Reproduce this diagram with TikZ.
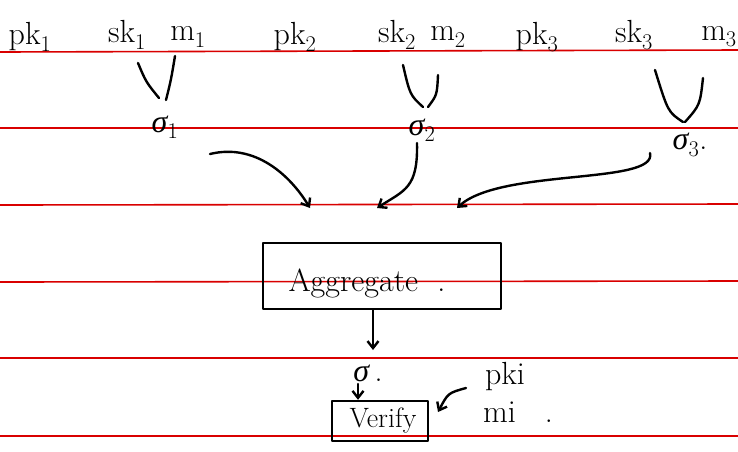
\documentclass[tikz,border=0pt]{standalone}
\usepackage{fontspec}
\newfontfamily\gk{Liberation Serif}
\newcommand{\sig}{{\gk\itshape σ}}
\usetikzlibrary{arrows.meta}
\begin{document}
\begin{tikzpicture}[x=1pt,y=-1pt,
  ink/.style={line width=2.4pt,line cap=round,line join=round},
  arr/.style={ink,-{Straight Barb[length=7pt,width=11pt]}},
  ruled/.style={red!85!black,line width=1.6pt},
  lbl/.style={font=\fontsize{32}{34}\selectfont,inner sep=1pt,anchor=center},
  box/.style={draw,ink,inner sep=0pt}]
\useasboundingbox (0,0) rectangle (738,451);
\fill[white] (0,0) rectangle (738,451);
\foreach \ya/\yb in {52/50,128/128,205/204,282/281,358/358,436/436}
  \draw[ruled] (0,\ya) -- (738,\yb);
% top row
\node[lbl] (pk1) at (30,37) {pk\textsubscript{1}};
\node[lbl] (sk1) at (127,35) {sk\textsubscript{1}};
\node[lbl] (m1) at (188,37) {m\textsubscript{1}};
\node[lbl] (pk2) at (295,37) {pk\textsubscript{2}};
\node[lbl] (sk2) at (397,35) {sk\textsubscript{2}};
\node[lbl] (m2) at (448,37) {m\textsubscript{2}};
\node[lbl] (pk3) at (537,37) {pk\textsubscript{3}};
\node[lbl] (sk3) at (634,35) {sk\textsubscript{3}};
\node[lbl] (m3) at (719,37) {m\textsubscript{3}};
% signatures
\node[lbl] (s1) at (165,127) {\sig\textsubscript{1}};
\node[lbl] (s2) at (422,130) {\sig\textsubscript{2}};
\node[lbl] (s3) at (690,145) {\sig\textsubscript{3}.};
% V strokes
\coordinate (v1a) at (138,63); \coordinate (v1b) at (175,56); \coordinate (v1c) at (159,98); \coordinate (v1d) at (166,100);
\coordinate (v2a) at (403,65); \coordinate (v2b) at (438,75); \coordinate (v2c) at (423,107); \coordinate (v2d) at (428,107);
\coordinate (v3a) at (655,70); \coordinate (v3b) at (703,78); \coordinate (v3c) at (683,122); \coordinate (v3d) at (685,122);
\draw[ink] (v1a) .. controls (146,82) .. (v1c);
\draw[ink] (v1b) .. controls (171,80) .. (v1d);
\draw[ink] (v2a) .. controls (410,95) .. (v2c);
\draw[ink] (v2b) .. controls (437,95) .. (v2d);
\draw[ink] (v3a) .. controls (668,112) .. (v3c);
\draw[ink] (v3b) .. controls (700,105) .. (v3d);
% aggregate box
\node[box,minimum width=238pt,minimum height=66pt] (agg) at (382,276) {};
\node[lbl] (aggt) at (367,283) {Aggregate\ \ .};
% arrows into aggregate
\coordinate (e1) at (310,208);
\coordinate (e2) at (377,208);
\coordinate (e3) at (457,208);
\coordinate (t1) at (210,154);
\coordinate (t2) at (417,143);
\coordinate (t3) at (650,153);
\draw[arr] (t1) .. controls (255,143) and (290,175) .. (e1);
\draw[arr] (t2) .. controls (418,188) and (405,190) .. (e2);
\draw[arr] (t3) .. controls (658,185) and (500,168) .. (e3);
% sigma and verify
\node[lbl] (sig) at (368,373) {\sig\,.};
\draw[arr] (agg.south -| 373,0) -- (373,350);
\node[box,minimum width=96pt,minimum height=40pt] (ver) at (380,421) {};
\node[lbl,font=\fontsize{28}{30}\selectfont] (vert) at (383,421) {Verify};
\draw[arr] (358,384) -- (ver.north -| 358,0);
\node[lbl] (pki) at (505,377) {pki};
\node[lbl] (mi) at (518,412) {mi\ \ \ .};
\draw[arr] (466,388) .. controls (448,393) .. (438,412);
\end{tikzpicture}
\end{document}
